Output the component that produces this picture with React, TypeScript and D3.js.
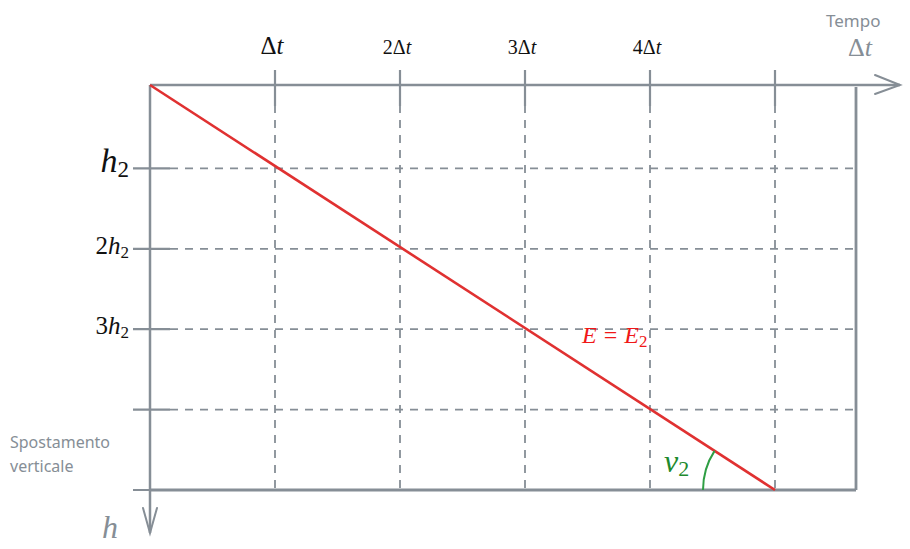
import React from "react";
import * as d3 from "d3";

// time steps along the top axis, drop steps along the left axis
const timeSteps = [1, 2, 3, 4, 5];
const timeLabels = ["", "2", "3", "4", ""];
const dropSteps = [1, 2, 3, 4, 5];
const dropLabels = ["", "2", "3", "", ""];
// the motion line: (t, h) in units of Δt and h2
const motion = [
  { t: 0, h: 0 },
  { t: 5, h: 5 },
];

const GRAY = "#868e96";
const RED = "#e03131";
const GREEN = "#2f9e44";
const MATH = "'Liberation Serif', 'DejaVu Serif', serif";
const HAND = "'Comic Sans MS', 'Noto Sans', sans-serif";

export default function App() {
  const width = 910;
  const height = 549;
  const x = d3.scaleLinear().domain([0, 5]).range([150, 775]);
  const y = d3.scaleLinear().domain([0, 5]).range([88, 490]);
  const top = 85;
  const right = 856;

  const line = d3
    .line<{ t: number; h: number }>()
    .x((d) => x(d.t))
    .y((d) => (d.h === 0 ? top : y(d.h)));

  // angle marker near the bottom end of the line
  const end = motion[1];
  const cx = x(end.t);
  const cy = y(end.h);
  const r = 72;
  const slope = Math.atan2(y(end.h) - top, x(end.t) - x(0));
  const a1 = Math.PI + slope;
  const arcPath = `M${cx - r},${cy} A${r},${r} 0 0 1 ${cx + r * Math.cos(a1)},${cy + r * Math.sin(a1)}`;

  return (
    <svg width={width} height={height} style={{ position: "absolute", left: 0, top: 0, background: "#fff" }}>
      {/* grid */}
      {timeSteps.map((s) => (
        <line key={"vg" + s} x1={x(s)} x2={x(s)} y1={top + 20} y2={y(5)} stroke={GRAY} strokeWidth={1.8} strokeDasharray="8 7" />
      ))}
      {dropSteps.slice(0, 4).map((s) => (
        <line key={"hg" + s} x1={170} x2={right} y1={y(s)} y2={y(s)} stroke={GRAY} strokeWidth={1.8} strokeDasharray="8 7" />
      ))}
      {/* frame */}
      <line x1={x(0)} x2={right} y1={y(5)} y2={y(5)} stroke={GRAY} strokeWidth={2.8} />
      <line x1={right} x2={right} y1={top + 2} y2={y(5)} stroke={GRAY} strokeWidth={2.8} />
      {/* top axis with arrow */}
      <line x1={x(0)} x2={900} y1={top} y2={top} stroke={GRAY} strokeWidth={2.5} />
      <path d={`M875,${top - 10} L900,${top} L875,${top + 9}`} fill="none" stroke={GRAY} strokeWidth={2} strokeLinecap="round" />
      {/* left axis with arrow */}
      <line x1={x(0)} x2={x(0)} y1={top} y2={533} stroke={GRAY} strokeWidth={2.5} />
      <path d={`M${x(0) - 7},508 L${x(0)},533 L${x(0) + 7},508`} fill="none" stroke={GRAY} strokeWidth={2} strokeLinecap="round" />
      {/* tick marks */}
      {timeSteps.map((s) => (
        <line key={"tt" + s} x1={x(s)} x2={x(s)} y1={top - 15} y2={top + 21} stroke={GRAY} strokeWidth={2.2} />
      ))}
      {dropSteps.map((s) => (
        <line key={"lt" + s} x1={x(0) - 17} x2={x(0) + 20} y1={y(s)} y2={y(s)} stroke={GRAY} strokeWidth={2.2} />
      ))}
      {/* time labels */}
      {timeSteps.map((s, i) =>
        i < 4 ? (
          <text key={"tl" + s} x={x(s) - 3} y={54} textAnchor="middle" fontFamily={MATH} fontSize={i === 0 ? 25 : 20} fill="#111">
            {timeLabels[i]}Δ<tspan fontStyle="italic">t</tspan>
          </text>
        ) : null
      )}
      {/* drop labels */}
      {dropSteps.map((s, i) =>
        i < 3 ? (
          <text key={"dl" + s} x={129} y={y(s) + (i === 0 ? 4 : 5)} textAnchor="end" fontFamily={MATH} fontSize={i === 0 ? 34 : 25} fill="#111">
            {dropLabels[i]}
            <tspan fontStyle="italic">h</tspan>
            <tspan fontSize={i === 0 ? 23 : 17} dy={i === 0 ? 5 : 4}>2</tspan>
          </text>
        ) : null
      )}
      {/* motion line */}
      <path d={line(motion) ?? ""} fill="none" stroke={RED} strokeWidth={2.6} />
      <text x={582} y={343} fontFamily={MATH} fontSize={24} fill="#f01818">
        <tspan fontStyle="italic">E</tspan>
        <tspan dx={7}>=</tspan>
        <tspan dx={7} fontStyle="italic">E</tspan>
        <tspan fontSize={17} dy={4}>2</tspan>
      </text>
      {/* angle */}
      <path d={arcPath} fill="none" stroke={GREEN} strokeWidth={2} />
      <text x={664} y={472} fontFamily={MATH} fontSize={32} fill="#1e8a2e">
        <tspan fontStyle="italic">v</tspan>
        <tspan fontSize={22} dy={4}>2</tspan>
      </text>
      {/* axis titles */}
      <text x={826} y={27} fontFamily={HAND} fontSize={17} fill={GRAY}>Tempo</text>
      <text x={848} y={56} fontFamily={MATH} fontSize={26} fill={GRAY}>
        Δ<tspan fontStyle="italic">t</tspan>
      </text>
      <text x={10} y={448} fontFamily={HAND} fontSize={16} fill={GRAY}>Spostamento</text>
      <text x={10} y={472} fontFamily={HAND} fontSize={16} fill={GRAY}>verticale</text>
      <text x={102} y={538} fontFamily={MATH} fontSize={32} fontStyle="italic" fill={GRAY}>h</text>
    </svg>
  );
}
